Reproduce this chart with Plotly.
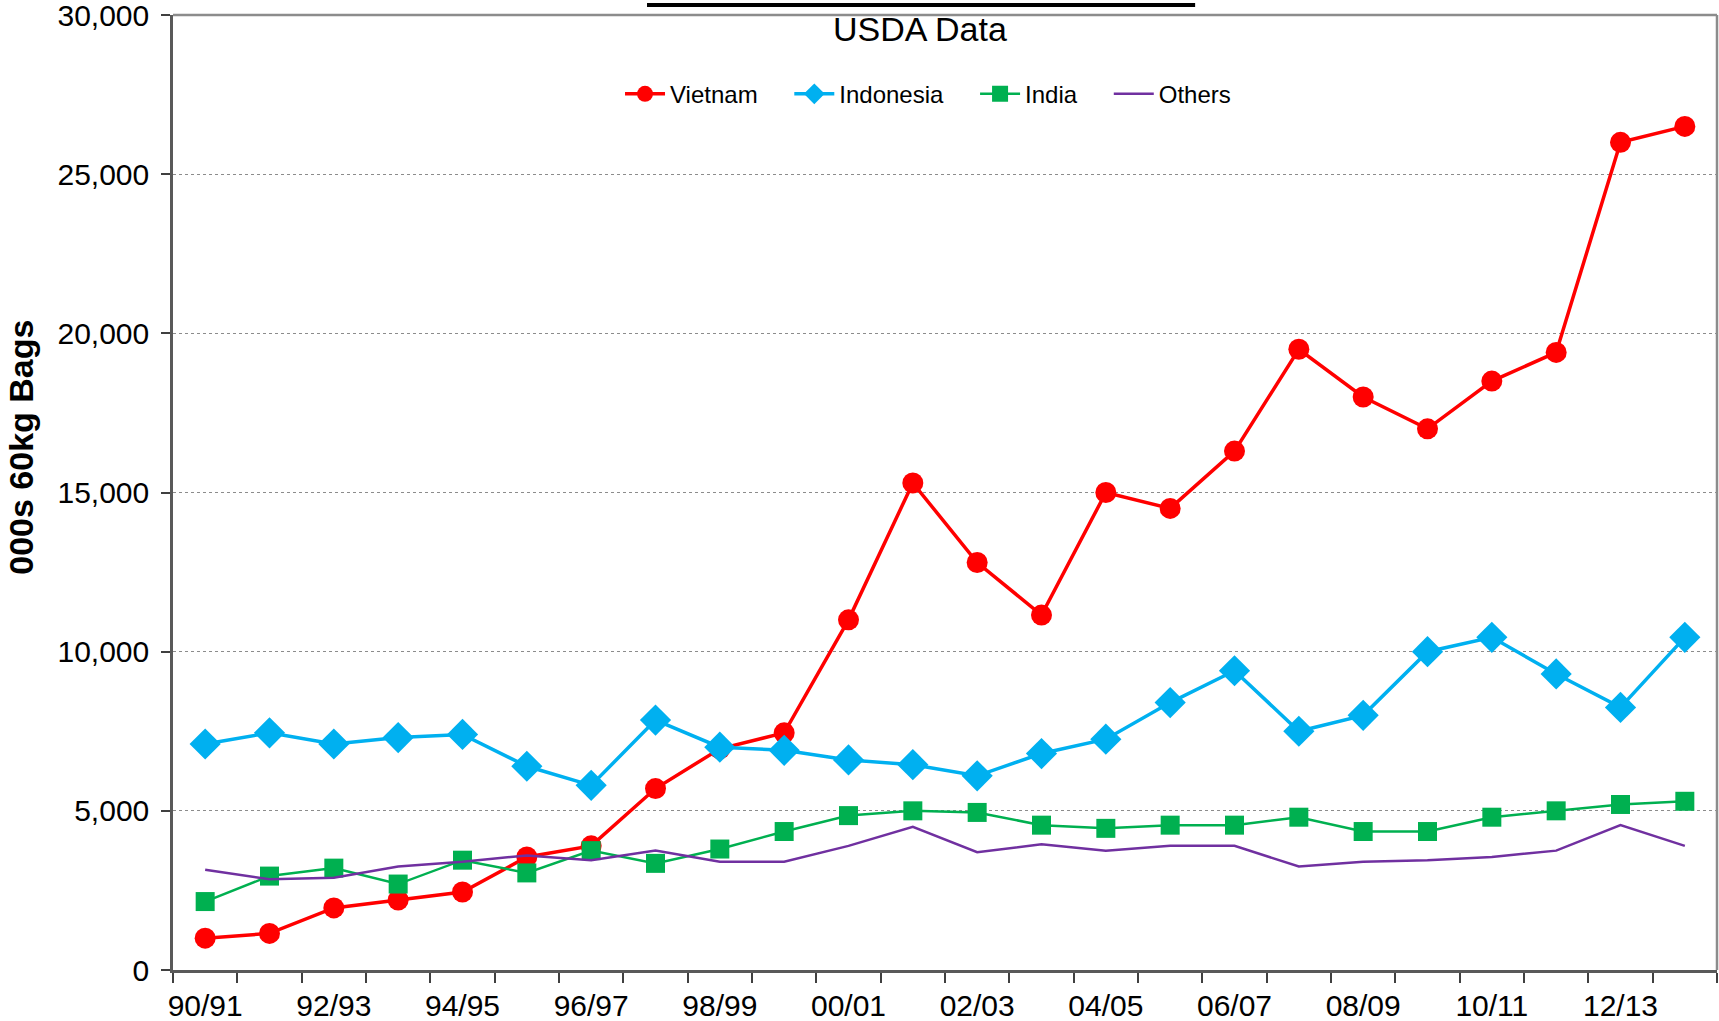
import plotly.graph_objects as go

# seasons on the x axis
seasons = ['90/91', '91/92', '92/93', '93/94', '94/95', '95/96', '96/97', '97/98',
           '98/99', '99/00', '00/01', '01/02', '02/03', '03/04', '04/05', '05/06',
           '06/07', '07/08', '08/09', '09/10', '10/11', '11/12', '12/13', '13/14']

# production, 000s of 60kg bags
vietnam = [1000, 1150, 1950, 2200, 2450, 3550, 3900, 5700, 6950, 7450, 11000, 15300,
           12800, 11150, 15000, 14500, 16300, 19500, 18000, 17000, 18500, 19400, 26000, 26500]
indonesia = [7100, 7450, 7100, 7300, 7400, 6400, 5800, 7850, 7000, 6900, 6600, 6450,
             6100, 6800, 7250, 8400, 9400, 7500, 8000, 10000, 10450, 9300, 8250, 10450]
india = [2150, 2950, 3200, 2700, 3450, 3050, 3750, 3350, 3800, 4350, 4850, 5000,
         4950, 4550, 4450, 4550, 4550, 4800, 4350, 4350, 4800, 5000, 5200, 5300]
others = [3150, 2850, 2900, 3250, 3400, 3600, 3450, 3750, 3400, 3400, 3900, 4500,
          3700, 3950, 3750, 3900, 3900, 3250, 3400, 3450, 3550, 3750, 4550, 3900]

FONT = 'Arial, Liberation Sans, sans-serif'
PAD = '\u00a0' * 4  # extra room between legend entries
idx = list(range(len(seasons)))

fig = go.Figure()

fig.add_trace(go.Scatter(
    x=idx, y=vietnam, name='Vietnam' + PAD, mode='lines+markers',
    line=dict(color='#FF0000', width=3.5),
    marker=dict(symbol='circle', size=21, color='#FF0000')
))
fig.add_trace(go.Scatter(
    x=idx, y=indonesia, name='Indonesia' + PAD, mode='lines+markers',
    line=dict(color='#00B0F0', width=3.5),
    marker=dict(symbol='diamond', size=24, color='#00B0F0')
))
fig.add_trace(go.Scatter(
    x=idx, y=india, name='India' + PAD, mode='lines+markers',
    line=dict(color='#00B050', width=2.5),
    marker=dict(symbol='square', size=19, color='#00B050')
))
fig.add_trace(go.Scatter(
    x=idx, y=others, name='Others', mode='lines',
    line=dict(color='#7030A0', width=2.5)
))

fig.update_xaxes(
    range=[-0.5, len(seasons) - 0.5], automargin=False,
    tickvals=idx[::2], ticktext=seasons[::2],
    ticks='outside', ticklen=7, tickcolor='rgba(0,0,0,0)',
    minor=dict(ticks='outside', tick0=-0.5, dtick=1, ticklen=10,
               tickcolor='#404040', tickwidth=1.5, showgrid=False),
    showgrid=False, zeroline=False,
    showline=True, linecolor='#595959', linewidth=2.5,
    ticklabeloverflow='allow',
    tickfont=dict(family=FONT, size=30, color='black')
)
fig.update_yaxes(
    range=[0, 30000], dtick=5000, tickformat=',', automargin=False,
    ticks='outside', ticklen=9, tickcolor='#404040', tickwidth=1.5,
    ticklabelstandoff=6, ticklabeloverflow='allow',
    showgrid=True, gridcolor='#8c8c8c', gridwidth=1, griddash='dot',
    zeroline=False,
    showline=True, linecolor='#595959', linewidth=2.5,
    tickfont=dict(family=FONT, size=30, color='black')
)

fig.update_layout(
    width=1719, height=1021,
    margin=dict(l=173, r=2, t=15, b=51),
    paper_bgcolor='white', plot_bgcolor='white',
    showlegend=True,
    legend=dict(orientation='h', x=0.489, y=0.917, xanchor='center', yanchor='middle',
                font=dict(family=FONT, size=24, color='black'),
                bgcolor='rgba(0,0,0,0)', itemwidth=40),
    annotations=[
        dict(text='USDA Data', x=0.484, y=0.985, xref='paper', yref='paper',
             xanchor='center', yanchor='middle', showarrow=False,
             font=dict(family=FONT, size=34, color='black')),
        dict(text='<b>000s 60kg Bags</b>', x=-0.099, y=0.547, xref='paper', yref='paper',
             xanchor='center', yanchor='middle', textangle=-90, showarrow=False,
             font=dict(family=FONT, size=34, color='black')),
    ],
    shapes=[
        # lighter frame on top and right of the plot area
        dict(type='line', xref='paper', yref='paper', x0=0, x1=1, y0=1, y1=1,
             line=dict(color='#8c8c8c', width=2.5)),
        dict(type='line', xref='paper', yref='paper', x0=1, x1=1, y0=0, y1=1,
             line=dict(color='#8c8c8c', width=2.5)),
        # black bar above the title
        dict(type='line', xref='paper', yref='paper', x0=0.307, x1=0.662,
             y0=1.0105, y1=1.0105, line=dict(color='black', width=4)),
    ]
)

# page has a default 8px body margin; drop it so the figure fills the window
fig.write_html("out.html", config={'displayModeBar': False},
               post_script="document.body.style.margin='0';document.body.style.overflow='hidden';")
